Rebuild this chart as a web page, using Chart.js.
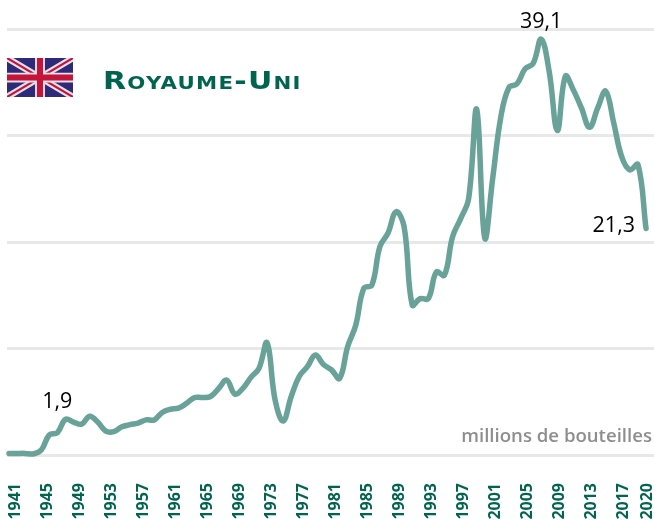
<!DOCTYPE html>
<html>
<head>
<meta charset="utf-8">
<title>Royaume-Uni</title>
<script src="https://cdn.jsdelivr.net/npm/chart.js@4"></script>
<style>
  html, body { margin: 0; padding: 0; background: #fff; }
  #wrap { position: relative; width: 654px; height: 522px; overflow: hidden; }
  #flag { position: absolute; left: 7px; top: 58px; width: 66px; height: 39px; }
</style>
</head>
<body>
<div id="wrap">
  <canvas id="chart" width="654" height="522"></canvas>
  <svg id="flag" viewBox="0 0 60 36" preserveAspectRatio="none">
    <rect width="60" height="36" fill="#2e2a78"/>
    <path d="M0,0 L60,36 M60,0 L0,36" stroke="#e6dfe8" stroke-width="6"/>
    <path d="M0,0 L60,36 M60,0 L0,36" stroke="#c4143a" stroke-width="2"/>
    <path d="M30,0 V36 M0,18 H60" stroke="#e6dfe8" stroke-width="9"/>
    <path d="M30,0 V36 M0,18 H60" stroke="#c4143a" stroke-width="5.5"/>
  </svg>
</div>
<script>
const years = [1941, 1942, 1943, 1944, 1945, 1946, 1947, 1948, 1949, 1950,
  1951, 1952, 1953, 1954, 1955, 1956, 1957, 1958, 1959, 1960,
  1961, 1962, 1963, 1964, 1965, 1966, 1967, 1968, 1969, 1970,
  1971, 1972, 1973, 1974, 1975, 1976, 1977, 1978, 1979, 1980,
  1981, 1982, 1983, 1984, 1985, 1986, 1987, 1988, 1989, 1990,
  1991, 1992, 1993, 1994, 1995, 1996, 1997, 1998, 1999, 2000,
  2001, 2002, 2003, 2004, 2005, 2006, 2007, 2008, 2009, 2010,
  2011, 2012, 2013, 2014, 2015, 2016, 2017, 2018, 2019, 2020];
const bottles = [0.15, 0.15, 0.15, 0.1, 0.47, 1.9, 2.1, 3.35, 3.1, 2.9,
  3.65, 3.1, 2.25, 2.2, 2.65, 2.85, 3.0, 3.3, 3.3, 4.0,
  4.3, 4.4, 4.85, 5.4, 5.4, 5.5, 6.25, 7.05, 5.73, 6.26,
  7.3, 8.15, 10.55, 5.17, 3.2, 5.5, 7.4, 8.3, 9.4, 8.5,
  8.0, 7.2, 10.2, 12.2, 15.67, 15.97, 19.6, 20.85, 22.87, 21.45,
  14.1, 14.7, 14.7, 17.2, 16.9, 20.5, 22.2, 24.1, 32.5, 20.4,
  26.1, 31.8, 34.55, 34.9, 36.3, 36.8, 39.1, 36.0, 30.5, 35.6,
  34.3, 32.6, 30.8, 32.6, 34.2, 31.2, 28.0, 26.8, 27.3, 21.3];
const tickYears = [1941, 1945, 1949, 1953, 1957, 1961, 1965, 1969, 1973, 1977, 1981,
  1985, 1989, 1993, 1997, 2001, 2005, 2009, 2013, 2017, 2020];
const noteYears = [1946, 2007, 2020];
const noteValues = [1.9, 39.1, 21.3];
const noteLabels = ['1,9', '39,1', '21,3'];
const noteAlign = ['center', 'center', 'right'];
const noteDx = [8, 0, -11];
const noteDy = [-27, -11, 4];

const textFont = '"Open Sans", "Noto Sans", sans-serif';
const green = '#00644f';

const textPlugin = {
  id: 'textPlugin',
  afterDraw(chart) {
    const ctx = chart.ctx, xs = chart.scales.xData, ys = chart.scales.y;
    ctx.save();
    ctx.textBaseline = 'alphabetic';
    ctx.fillStyle = '#000';
    ctx.font = '21.5px ' + textFont;
    noteLabels.forEach(function (txt, i) {
      ctx.textAlign = noteAlign[i];
      ctx.fillText(txt, xs.getPixelForValue(noteYears[i]) + noteDx[i], ys.getPixelForValue(noteValues[i]) + noteDy[i]);
    });

    ctx.textAlign = 'right';
    ctx.fillStyle = '#8e8e8e';
    ctx.font = '600 18.6px ' + textFont;
    ctx.fillText('millions de bouteilles', 652, 442);

    // title is a wide face in the original, so stretch it sideways
    ctx.textAlign = 'left';
    ctx.fillStyle = green;
    ctx.font = 'small-caps bold 24px "DejaVu Sans", sans-serif';
    ctx.letterSpacing = '1px';
    ctx.translate(103, 89);
    ctx.scale(1.25, 1);
    ctx.fillText('Royaume-Uni', 0, 0);
    ctx.restore();
  }
};

new Chart(document.getElementById('chart'), {
  type: 'line',
  data: {
    datasets: [{
      data: years.map(function (y, i) { return { x: y, y: bottles[i] }; }),
      xAxisID: 'xData',
      borderColor: '#68a298',
      borderWidth: 5.5,
      borderCapStyle: 'round',
      borderJoinStyle: 'round',
      pointRadius: 0,
      tension: 0.4,
      clip: false
    }]
  },
  options: {
    responsive: false,
    animation: false,
    layout: { padding: { left: 7, right: 0, top: 29.5, bottom: 0 } },
    plugins: { legend: { display: false }, tooltip: { enabled: false } },
    scales: {
      xData: {
        type: 'linear',
        display: false,
        min: 1940.75,
        max: 2020.99
      },
      // tick labels sit on a slightly tighter spacing than the line
      xLabels: {
        type: 'linear',
        position: 'bottom',
        min: 1940,
        max: 2020.875,
        grid: { display: false },
        border: { display: false },
        afterBuildTicks(scale) {
          scale.ticks = tickYears.map(function (v) { return { value: v }; });
        },
        afterFit(scale) {
          scale.height = 67;
          scale.paddingLeft = 0;
          scale.paddingRight = 0;
        },
        ticks: {
          autoSkip: false,
          minRotation: 90,
          maxRotation: 90,
          padding: 20,
          color: green,
          font: { family: textFont, size: 16, weight: 'bold' },
          callback(v) { return String(v); }
        }
      },
      y: {
        min: 0,
        max: 40,
        ticks: { stepSize: 10, display: false },
        border: { display: false },
        grid: { color: '#e8e8e8', lineWidth: 3, drawTicks: false },
        afterFit(scale) { scale.width = 0; }
      }
    }
  },
  plugins: [textPlugin]
});
</script>
</body>
</html>
